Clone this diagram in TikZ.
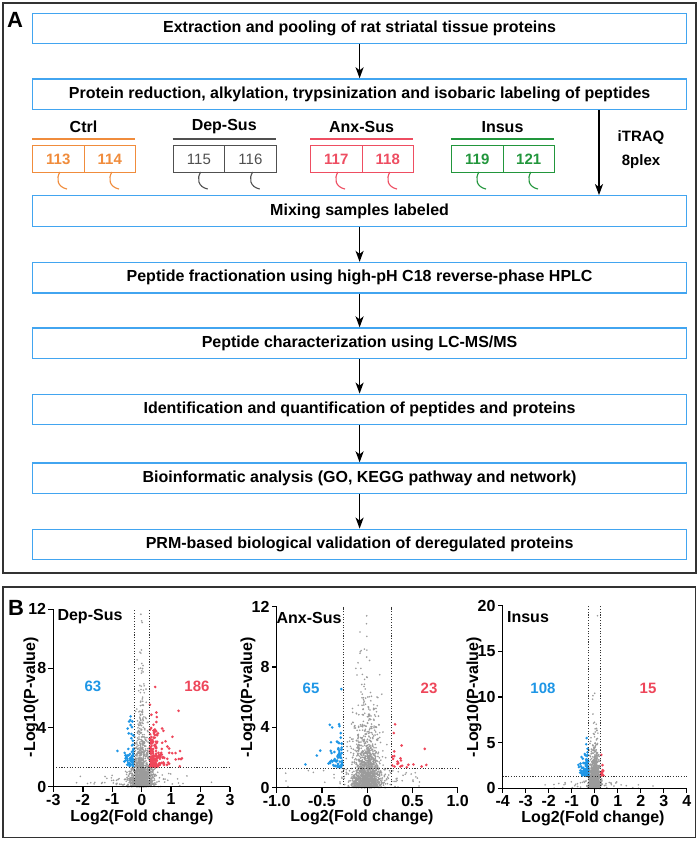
\documentclass[tikz,border=0pt]{standalone}
\usepackage{fontspec}
\setmainfont{Liberation Sans}
\usetikzlibrary{arrows.meta}
\definecolor{boxblue}{RGB}{66,165,240}
\definecolor{ctrlc}{RGB}{240,140,60}
\definecolor{depc}{RGB}{80,80,80}
\definecolor{anxc}{RGB}{238,78,98}
\definecolor{insc}{RGB}{34,150,60}
\definecolor{ptblue}{RGB}{30,150,230}
\definecolor{ptred}{RGB}{238,70,90}
\definecolor{ptgray}{RGB}{155,155,155}
\definecolor{framec}{RGB}{50,50,50}
\newcommand\fs[1]{\fontsize{#1}{#1}\selectfont}
% gray cloud: count, sd x, mean y
\newcommand\grayPts[3]{\foreach \i in {1,...,#1}{%
 \pgfmathsetmacro\vpx{#2*sqrt(-2*ln(0.0001+0.9998*rnd))*cos(360*rnd)}%
 \pgfmathsetmacro\vpy{-#3*ln(0.0001+0.9998*rnd)}%
 \pgfmathsetmacro\vpy{(abs(\vpx)>0.265 && \vpy>1.3) ? 1.25*rnd : \vpy}%
 \fill[ptgray] (\vpx,\vpy) circle[radius=0.9pt];}}
% wide low points: count, sd x, max y
\newcommand\widePts[3]{\foreach \i in {1,...,#1}{%
 \pgfmathsetmacro\vpx{#2*sqrt(-2*ln(0.0001+0.9998*rnd))*cos(360*rnd)}%
 \pgfmathsetmacro\vpy{#3*rnd}%
 \fill[ptgray] (\vpx,\vpy) circle[radius=0.9pt];}}
% coloured points: count, colour, sign, x scale, y scale
\newcommand\colPts[5]{\foreach \i in {1,...,#1}{%
 \pgfmathsetmacro\vpx{#3*(0.275-#4*ln(0.0001+0.9998*rnd))}%
 \pgfmathsetmacro\vpy{1.35-#5*ln(0.0001+0.9998*rnd)}%
 \fill[#2] (\vpx,\vpy) circle[radius=1.45pt];}}
% label group: left x, id, colour, n1, n2, series, name
\newcommand\labGroup[7]{%
 \node[font=\bfseries\fs{16}] (#2h) at (#1+51.5,127) {#7};
 \draw[#3, line width=1.5pt] (#1,139) -- (#1+103,139);
 \node[tagbox, draw=#3, text=#3, font=#6\fs{15}] (#2a) at (#1,145) {#4};
 \node[tagbox, draw=#3, text=#3, font=#6\fs{15}] (#2b) at (#1+51.5,145) {#5};
 \draw[#3, line width=1.1pt] (#1+28,172) .. controls (#1+24,178) and (#1+25,187) .. (#1+35,189);
 \draw[#3, line width=1.1pt] (#1+80,172) .. controls (#1+76,178) and (#1+77,187) .. (#1+87,189);
}
\begin{document}
\begin{tikzpicture}[x=1pt,y=-1pt,
 stepbox/.style={draw=boxblue, line width=1.3pt, minimum width=654pt, minimum height=30.5pt, inner sep=0pt, font=\bfseries\fs{16}},
 flow/.style={-{Stealth[length=11pt,width=8pt,inset=3pt]}, line width=1.6pt},
 tagbox/.style={line width=1pt, minimum width=51.5pt, minimum height=27pt, inner sep=0pt, anchor=north west},
 frame/.style={draw=framec, line width=1.5pt},
 axis/.style={line width=1.4pt, black},
 thr/.style={line width=0.9pt, black!80, dash pattern=on 1.1pt off 1.6pt},
 ticklab/.style={font=\bfseries\fs{16}},
 axlab/.style={font=\bfseries\fs{16}},
 numlab/.style={font=\bfseries\fs{15}}]
\useasboundingbox (0,0) rectangle (699,841);
\fill[white] (0,0) rectangle (699,841);
% ---------- panel A ----------
\draw[frame] (3,3) rectangle (696,573);
\node[font=\bfseries\fs{22}] (labA) at (15,20) {A};
\node[stepbox] (s1) at (359.6,28.5) {Extraction and pooling of rat striatal tissue proteins};
\node[stepbox] (s2) at (359.6,94.2) {Protein reduction, alkylation, trypsinization and isobaric labeling of peptides};
\node[stepbox] (s3) at (359.6,211) {Mixing samples labeled};
\node[stepbox] (s4) at (359.6,277.8) {Peptide fractionation using high-pH C18 reverse-phase HPLC};
\node[stepbox] (s5) at (359.6,343.3) {Peptide characterization using LC-MS/MS};
\node[stepbox] (s6) at (359.6,409.5) {Identification and quantification of peptides and proteins};
\node[stepbox] (s7) at (359.6,478.3) {Bioinformatic analysis (GO, KEGG pathway and network)};
\node[stepbox] (s8) at (359.6,544.5) {PRM-based biological validation of deregulated proteins};
\draw[flow] (s1) -- (s2);
\draw[flow] (s3) -- (s4);
\draw[flow] (s4) -- (s5);
\draw[flow] (s5) -- (s6);
\draw[flow] (s6) -- (s7);
\draw[flow] (s7) -- (s8);
\coordinate (itx) at (599,0);
\draw[flow] (s2.south -| itx) -- (s3.north -| itx);
\node[font=\bfseries\fs{15}, align=center, inner sep=0pt] (itraq) at (641,150) {iTRAQ\\[9pt]8plex};
\labGroup{32}{ctrl}{ctrlc}{113}{114}{\bfseries}{Ctrl}
\labGroup{172.7}{dep}{depc}{115}{116}{\mdseries}{Dep-Sus}
\labGroup{310}{anx}{anxc}{117}{118}{\bfseries}{Anx-Sus}
\labGroup{451}{ins}{insc}{119}{121}{\bfseries}{Insus}
% ---------- panel B ----------
\draw[frame] (3,587) rectangle (695.5,837.5);
\node[font=\bfseries\fs{22}] (labB) at (16,608) {B};
% plot 1: Dep-Sus
\begin{scope}[shift={(141.7pt,-786.7pt)}, x=29.45pt, y=14.78pt]
 \pgfmathsetseed{11}
 \begin{scope}
  \clip (-3,-0.1) rectangle (3,12);
  \widePts{90}{0.9}{0.9}
  \grayPts{1100}{0.18}{1.0}
  \grayPts{180}{0.07}{3.0}
  \colPts{63}{ptblue}{-1}{0.09}{0.9}
  \colPts{186}{ptred}{1}{0.2}{1.0}
 \end{scope}
 \draw[thr] (-0.263,0) -- (-0.263,12);
 \draw[thr] (0.263,0) -- (0.263,12);
 \draw[thr] (-3,1.3) -- (3,1.3);
 \draw[axis] (-3,12) -- (-3,0) -- (3,0);
 \foreach \t in {-3,...,3} {\draw[axis] (\t,0) -- ++(0,-5pt); \node[ticklab, anchor=north, inner sep=0pt] at ([yshift=-7pt]\t,0) {\t};}
 \foreach \t in {0,4,8,12} {\draw[axis] (-3,\t) -- ++(-5pt,0); \node[ticklab, anchor=east, inner sep=0pt] at ([xshift=-7pt]-3,\t) {\t};}
\end{scope}
\node[axlab] (t1) at (90,617) {Dep-Sus};
\node[numlab, text=ptblue] (n1a) at (93,686) {63};
\node[numlab, text=ptred] (n1b) at (197,686) {186};
\node[axlab, rotate=90] (y1) at (31,697) {-Log10(P-value)};
\node[axlab] (x1) at (142,817) {Log2(Fold change)};
% plot 2: Anx-Sus
\begin{scope}[shift={(367.2pt,-787.7pt)}, x=90.5pt, y=15.08pt]
 \pgfmathsetseed{23}
 \begin{scope}
  \clip (-1,-0.1) rectangle (1,12);
  \widePts{80}{0.3}{1.2}
  \grayPts{1200}{0.085}{1.3}
  \grayPts{170}{0.06}{3.2}
  \colPts{65}{ptblue}{-1}{0.06}{0.9}
  \colPts{23}{ptred}{1}{0.16}{0.8}
 \end{scope}
 \draw[thr] (-0.263,0) -- (-0.263,12);
 \draw[thr] (0.263,0) -- (0.263,12);
 \draw[thr] (-1,1.3) -- (1,1.3);
 \draw[axis] (-1,12) -- (-1,0) -- (1,0);
 \foreach \t/\l in {-1/-1.0,-0.5/-0.5,0/0,0.5/0.5,1/1.0} {\draw[axis] (\t,0) -- ++(0,-5pt); \node[ticklab, anchor=north, inner sep=0pt] at ([yshift=-7pt]\t,0) {\l};}
 \foreach \t in {0,4,8,12} {\draw[axis] (-1,\t) -- ++(-5pt,0); \node[ticklab, anchor=east, inner sep=0pt] at ([xshift=-7pt]-1,\t) {\t};}
\end{scope}
\node[axlab] (t2) at (309,618) {Anx-Sus};
\node[numlab, text=ptblue] (n2a) at (311,688) {65};
\node[numlab, text=ptred] (n2b) at (429,688) {23};
\node[axlab, rotate=90] (y2) at (248,697) {-Log10(P-value)};
\node[axlab] (x2) at (362,817) {Log2(Fold change)};
% plot 3: Insus
\begin{scope}[shift={(594.7pt,-788.3pt)}, x=23pt, y=9.13pt]
 \pgfmathsetseed{37}
 \begin{scope}
  \clip (-4,-0.1) rectangle (4,20);
  \widePts{40}{1.2}{0.8}
  \grayPts{1100}{0.12}{1.1}
  \grayPts{140}{0.07}{2.2}
  \colPts{108}{ptblue}{-1}{0.1}{0.9}
  \colPts{15}{ptred}{1}{0.05}{0.45}
  \fill[ptgray] (0.12,18.9) circle[radius=0.9pt];
 \end{scope}
 \draw[thr] (-0.263,0) -- (-0.263,20);
 \draw[thr] (0.263,0) -- (0.263,20);
 \draw[thr] (-4,1.35) -- (4,1.35);
 \draw[axis] (-4,20) -- (-4,0) -- (4,0);
 \foreach \t in {-4,...,4} {\draw[axis] (\t,0) -- ++(0,-5pt); \node[ticklab, anchor=north, inner sep=0pt] at ([yshift=-7pt]\t,0) {\t};}
 \foreach \t in {0,5,10,15,20} {\draw[axis] (-4,\t) -- ++(-5pt,0); \node[ticklab, anchor=east, inner sep=0pt] at ([xshift=-7pt]-4,\t) {\t};}
\end{scope}
\node[axlab] (t3) at (528,617) {Insus};
\node[numlab, text=ptblue] (n3a) at (543,688) {108};
\node[numlab, text=ptred] (n3b) at (648,688) {15};
\node[axlab, rotate=90] (y3) at (474,697) {-Log10(P-value)};
\node[axlab] (x3) at (593,818) {Log2(Fold change)};
\end{tikzpicture}
\end{document}
